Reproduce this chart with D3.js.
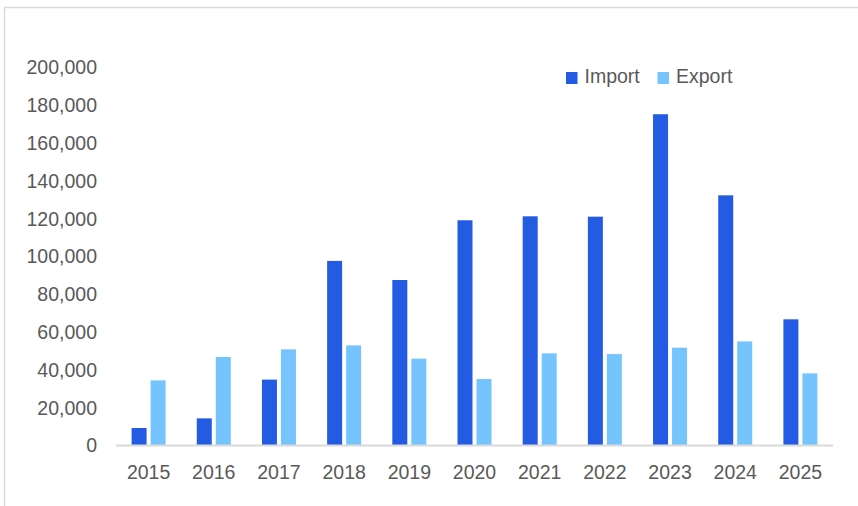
<!DOCTYPE html>
<html>
<head>
<meta charset="utf-8">
<script src="https://cdn.jsdelivr.net/npm/d3@7"></script>
<style>
  html, body { margin: 0; padding: 0; background: #fff; }
  svg { display: block; }
  text { font-family: "Liberation Sans", Arial, sans-serif; fill: #595959; }
</style>
</head>
<body>
<div id="chart"></div>
<script>
const years = ["2015","2016","2017","2018","2019","2020","2021","2022","2023","2024","2025"];
const importValues = [9000, 14100, 34600, 97400, 87300, 118900, 121000, 120800, 175000, 132100, 66500];
const exportValues = [34200, 46600, 50600, 52700, 45700, 34900, 48500, 48100, 51500, 54800, 37900];
const seriesNames = ["Import", "Export"];
const yTicks = [0, 20000, 40000, 60000, 80000, 100000, 120000, 140000, 160000, 180000, 200000];

(function () {
const W = 858, H = 506;
const colors = { Import: "#245BE3", Export: "#76C4FD" };
const svg = d3.select("#chart").append("svg").attr("width", W).attr("height", H);

// outer border
svg.append("rect").attr("x", 4.5).attr("y", 7.5).attr("width", 900).attr("height", 600)
  .attr("fill", "none").attr("stroke", "#d9d9d9").attr("stroke-width", 1.5);

const mLeft = 116, mRight = 833, mTop = 67, mBottom = 445;
const x = d3.scaleBand().domain(years).range([mLeft, mRight]).paddingInner(0).paddingOuter(0);
const y = d3.scaleLinear().domain([0, 200000]).range([mBottom, mTop]);

const barW = 15, gap = 4;
const data = years.map((yr, i) => ({ yr, Import: importValues[i], Export: exportValues[i] }));

const g = svg.append("g");
data.forEach(d => {
  const cx = x(d.yr) + x.bandwidth() / 2;
  seriesNames.forEach((s, j) => {
    const bx = j === 0 ? cx - gap / 2 - barW : cx + gap / 2;
    g.append("rect")
      .attr("x", bx).attr("y", y(d[s]))
      .attr("width", barW).attr("height", y(0) - y(d[s]))
      .attr("fill", colors[s]);
  });
});

// baseline
svg.append("line").attr("x1", mLeft).attr("x2", mRight).attr("y1", mBottom + 0.5).attr("y2", mBottom + 0.5)
  .attr("stroke", "#d9d9d9").attr("stroke-width", 2);

// y axis
const yAxis = d3.axisLeft(y).tickValues(yTicks).tickSize(0).tickPadding(0)
  .tickFormat(d3.format(","));
const ya = svg.append("g").attr("transform", `translate(97,0)`).call(yAxis);
ya.select(".domain").remove();
ya.selectAll("text").attr("font-size", 19.5).attr("fill", "#595959")
  .attr("font-family", "'Liberation Sans', Arial, sans-serif").attr("dy", "0.35em");

// x axis
const xAxis = d3.axisBottom(x).tickSize(0).tickPadding(0);
const xa = svg.append("g").attr("transform", `translate(0,465)`).call(xAxis);
xa.select(".domain").remove();
xa.selectAll("text").attr("font-size", 19.5).attr("fill", "#595959")
  .attr("font-family", "'Liberation Sans', Arial, sans-serif").attr("dy", "0.72em");

// legend
const legendX = [566, 657.5];
seriesNames.forEach((s, i) => {
  const lg = svg.append("g").attr("transform", `translate(${legendX[i]},72)`);
  lg.append("rect").attr("width", 11.5).attr("height", 12).attr("fill", colors[s]);
  lg.append("text").attr("x", 18.5).attr("y", 11).attr("font-size", 19.5).text(s);
});
})();
</script>
</body>
</html>
